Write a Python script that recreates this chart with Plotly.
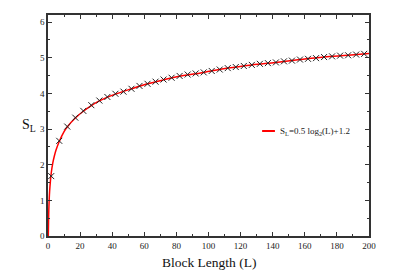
import plotly.graph_objects as go

# Data
marker_L = [2, 7, 12, 17, 22, 27, 32, 37, 42, 47, 52, 57, 62, 67, 72, 77, 82, 87, 92, 97,
            102, 107, 112, 117, 122, 127, 132, 137, 142, 147, 152, 157, 162, 167, 172, 177,
            182, 187, 192, 197]
marker_S = [1.68, 2.67, 3.07, 3.32, 3.51, 3.67, 3.80, 3.90, 3.99, 4.05, 4.13, 4.21, 4.27, 4.33,
            4.39, 4.44, 4.49, 4.53, 4.56, 4.59, 4.63, 4.67, 4.71, 4.74, 4.77, 4.80, 4.83, 4.85,
            4.87, 4.90, 4.92, 4.95, 4.97, 4.99, 5.02, 5.04, 5.06, 5.07, 5.09, 5.11]

line_L = [0.2, 0.35, 0.5, 0.75, 1, 1.5, 2, 3, 4, 5, 7, 10, 12, 17, 22, 27, 32, 42, 52, 62, 72,
          82, 97, 112, 127, 142, 157, 172, 187, 200]
line_S = [0.0, 0.42, 0.72, 1.02, 1.25, 1.54, 1.76, 2.05, 2.25, 2.41, 2.65, 2.93, 3.06, 3.31,
          3.50, 3.66, 3.79, 3.98, 4.13, 4.27, 4.38, 4.48, 4.59, 4.71, 4.80, 4.87, 4.95, 5.02,
          5.07, 5.12]

x_ticks = [0, 20, 40, 60, 80, 100, 120, 140, 160, 180, 200]
y_ticks = [0, 1, 2, 3, 4, 5, 6]

legend_text = "S<sub>L</sub>=0.5 log<sub>2</sub>(L)+1.2"

FONT = "Liberation Serif"
AX = "#333333"

fig = go.Figure()
fig.add_trace(go.Scatter(x=line_L, y=line_S, mode="lines", line=dict(color="#ff0000", width=1.5, shape="spline"),
                         showlegend=False, hoverinfo="skip"))
fig.add_trace(go.Scatter(x=marker_L, y=marker_S, mode="markers",
                         marker=dict(symbol="x-thin", size=6, line=dict(width=1, color="#222222")),
                         showlegend=False))

axis_common = dict(showline=True, linecolor=AX, linewidth=1.6, mirror="ticks", ticks="inside",
                   ticklen=4, tickwidth=1, tickcolor=AX, showgrid=False, zeroline=False,
                   tickfont=dict(family=FONT, size=9, color="#222222"))

fig.update_xaxes(range=[0, 200], tickvals=x_ticks, ticktext=[str(v) for v in x_ticks],
                 minor=dict(ticks="inside", ticklen=2, dtick=10, tick0=0, tickcolor=AX, showgrid=False),
                 **axis_common)
fig.update_yaxes(range=[0, 6.2], tickvals=y_ticks, ticktext=[str(v) for v in y_ticks],
                 minor=dict(ticks="inside", ticklen=2, dtick=0.5, tick0=0, tickcolor=AX, showgrid=False),
                 **axis_common)

# manual legend
fig.add_shape(type="line", xref="paper", yref="paper", x0=0.667, x1=0.707, y0=0.475, y1=0.475,
              line=dict(color="#ff0000", width=2))
fig.add_annotation(xref="paper", yref="paper", x=0.715, y=0.475, xanchor="left", yanchor="middle",
                   text=legend_text, showarrow=False, font=dict(family=FONT, size=9, color="#222222"))

# axis titles
fig.add_annotation(xref="paper", yref="paper", x=0.5, y=-0.075, xanchor="center", yanchor="top",
                   text="Block Length (L)", showarrow=False, font=dict(family=FONT, size=13.5, color="#111111"))
fig.add_annotation(xref="paper", yref="paper", x=-0.058, y=0.5, xanchor="center", yanchor="middle",
                   text="S<sub>L</sub>", showarrow=False, font=dict(family=FONT, size=14, color="#111111"))

fig.update_layout(width=407, height=268, margin=dict(l=40, r=46, t=5, b=40),
                  font=dict(family=FONT),
                  paper_bgcolor="white", plot_bgcolor="white", showlegend=False)

fig.write_html("out.html")
